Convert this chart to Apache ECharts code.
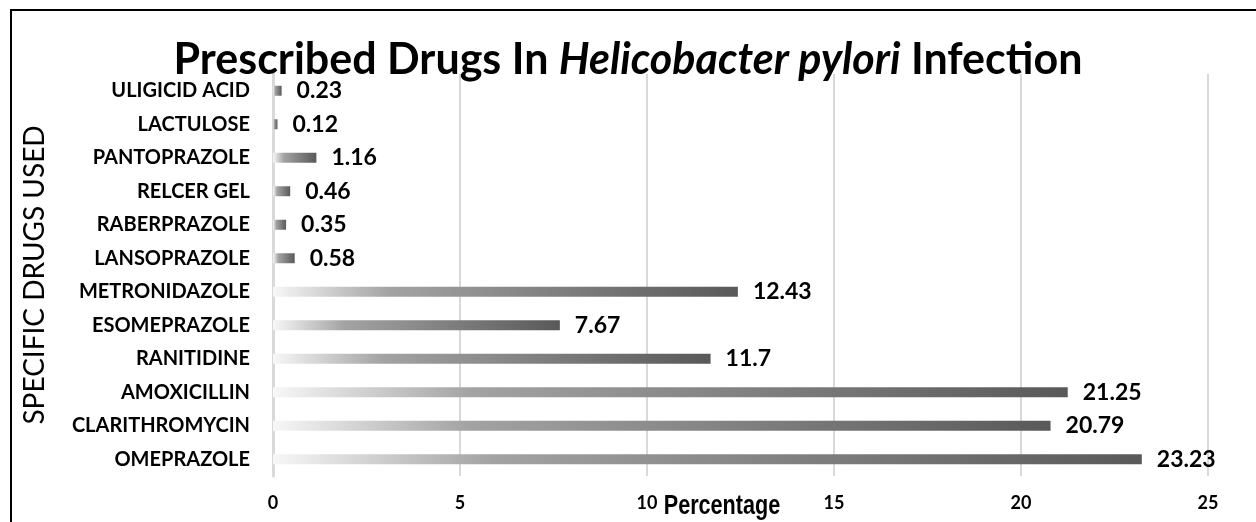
<!DOCTYPE html>
<html><head><meta charset="utf-8">
<script src="https://cdn.jsdelivr.net/npm/echarts@6/dist/echarts.min.js"></script>
<style>html,body{margin:0;padding:0;background:#fff}#c{width:1256px;height:522px}</style>
</head><body><div id="c"></div>
<script>
const categories = ['OMEPRAZOLE','CLARITHROMYCIN','AMOXICILLIN','RANITIDINE','ESOMEPRAZOLE','METRONIDAZOLE','LANSOPRAZOLE','RABERPRAZOLE','RELCER GEL','PANTOPRAZOLE','LACTULOSE','ULIGICID ACID'];
const values = [23.23,20.79,21.25,11.7,7.67,12.43,0.58,0.35,0.46,1.16,0.12,0.23];
const xTicks = [0,5,10,15,20,25];

const FONT = 'Lato, "Open Sans", sans-serif';
const chart = echarts.init(document.getElementById('c'));
const grad = new echarts.graphic.LinearGradient(0,0,1,0,[
  {offset:0,color:'#f7f7f7'},{offset:0.25,color:'#a3a3a3'},{offset:1,color:'#595959'}]);
chart.setOption({
  animation:false,
  title:{
    left:'center', top:34,
    text:'{a|Prescribed Drugs In }{b|Helicobacter pylori}{a| Infection}',
    textStyle:{rich:{
      a:{fontFamily:FONT,fontWeight:'bold',fontSize:43,color:'#000'},
      b:{fontFamily:FONT,fontWeight:'bold',fontStyle:'italic',fontSize:43,color:'#000'}
    }}
  },
  grid:{left:273,right:48,top:74,bottom:46,containLabel:false},
  xAxis:{
    type:'value', min:xTicks[0], max:xTicks[xTicks.length-1], interval:5,
    axisLine:{show:false}, axisTick:{show:false},
    splitLine:{lineStyle:{color:'#d9d9d9',width:2}},
    axisLabel:{margin:18,fontFamily:FONT,fontWeight:'bold',fontSize:18,color:'#000'}
  },
  yAxis:{
    type:'category', data:categories,
    axisLine:{show:true,lineStyle:{color:'#d9d9d9',width:3}},
    axisTick:{show:false},
    axisLabel:{margin:23,fontFamily:FONT,fontWeight:'bold',fontSize:20,color:'#000'},
    name:'SPECIFIC DRUGS USED', nameLocation:'middle', nameGap:224, nameRotate:90,
    nameTextStyle:{fontFamily:FONT,fontSize:28,color:'#000'}
  },
  series:[{
    type:'bar', data:values, barWidth:10,
    itemStyle:{color:grad},
    label:{show:true,position:'right',distance:15,fontFamily:FONT,fontWeight:'bold',fontSize:23,color:'#000'}
  }],
  graphic:[
    {type:'rect',shape:{x:11,y:10,width:1400,height:700},style:{fill:'none',stroke:'#000',lineWidth:2},silent:true},
    {type:'text',x:722,y:507,scaleX:0.8,style:{text:'Percentage',font:'bold 27px "Liberation Sans", Arial, sans-serif',fill:'#000',align:'center',verticalAlign:'middle'}}
  ]
});
</script></body></html>
